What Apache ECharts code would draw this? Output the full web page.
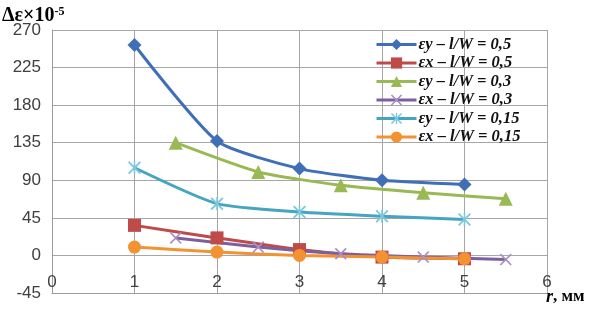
<!DOCTYPE html>
<html>
<head>
<meta charset="utf-8">
<script src="https://cdn.jsdelivr.net/npm/echarts@6/dist/echarts.min.js"></script>
<style>
  html, body { margin: 0; padding: 0; background: #fff; }
  #chart { width: 598px; height: 309px; }
</style>
</head>
<body>
<div id="chart"></div>
<script>
// r, мм
const rWhole = [1, 2, 3, 4, 5];
const rHalf = [1.5, 2.5, 3.5, 4.5, 5.5];

// Δε ×10^-5
const eyW05 = [252, 137, 104, 90, 85];
const exW05 = [36, 21, 7, -2, -4];
const eyW03 = [135, 100, 84, 75, 68];
const exW03 = [21, 10, 2, -2, -5];
const eyW015 = [105, 62, 52, 47, 43];
const exW015 = [10, 4, 0, -2, -4];

const seriesNames = [
  'εy – l/W = 0,5',
  'εx – l/W = 0,5',
  'εy – l/W = 0,3',
  'εx – l/W = 0,3',
  'εy – l/W = 0,15',
  'εx – l/W = 0,15'
];

const xTicks = [0, 1, 2, 3, 4, 5, 6];
const yTicks = [-45, 0, 45, 90, 135, 180, 225, 270];

// markers
const crossPath = 'path://M0,1L1,0L5,4L9,0L10,1L6,5L10,9L9,10L5,6L1,10L0,9L4,5Z';
const starPath = 'path://M0,1L1,0L5,4L9,0L10,1L6,5L10,9L9,10L5,6L1,10L0,9L4,5Z M4.4,0L5.6,0L5.6,10L4.4,10Z';

const pairs = (xs, ys) => xs.map((x, i) => [x, ys[i]]);

const mk = (name, data, color, symbol, size, symColor) => ({
  name: name,
  type: 'line',
  data: data,
  smooth: 0.2,
  symbol: symbol,
  symbolSize: size,
  showAllSymbol: true,
  lineStyle: { color: color, width: 3 },
  itemStyle: { color: symColor || color },
  z: 3
});

const chart = echarts.init(document.getElementById('chart'));
const option = {
  animation: false,
  backgroundColor: '#fff',
  title: {
    text: '{a|Δε×10}{b|-5}',
    left: -3,
    top: 1,
    textStyle: {
      rich: {
        a: { fontFamily: 'Liberation Serif', fontWeight: 'bold', fontSize: 20, color: '#000' },
        b: { fontFamily: 'Liberation Serif', fontWeight: 'bold', fontSize: 12, color: '#000', verticalAlign: 'top', padding: [0, 0, 8, 0] }
      }
    }
  },
  graphic: [{
    type: 'text',
    left: 546,
    top: 288,
    style: {
      text: '{i|r}{n|, мм}',
      rich: {
        i: { fontFamily: 'Liberation Serif', fontStyle: 'italic', fontWeight: 'bold', fontSize: 18, fill: '#000' },
        n: { fontFamily: 'Liberation Serif', fontWeight: 'bold', fontSize: 17, fill: '#000' }
      }
    }
  }],
  legend: {
    orient: 'vertical',
    left: 370,
    top: 31,
    itemWidth: 40,
    itemHeight: 14,
    itemGap: 1.5,
    data: seriesNames,
    lineStyle: { width: 3 },
    textStyle: {
      fontFamily: 'Liberation Serif',
      fontStyle: 'italic',
      fontWeight: 'bold',
      fontSize: 16.5,
      color: '#111',
      padding: [0, 0, 0, -3]
    }
  },
  grid: { left: 52, right: 51, top: 30, bottom: 16 },
  xAxis: {
    type: 'value',
    min: 0,
    max: 6,
    interval: 1,
    axisLine: { show: true, onZero: false, lineStyle: { color: '#9a9a9a', width: 1 } },
    axisTick: { show: false },
    splitLine: { show: true, lineStyle: { color: '#a6a6a6', width: 1 } },
    axisLabel: {
      inside: true,
      margin: 2,
      fontFamily: 'Liberation Sans',
      fontSize: 17,
      color: '#404040',
      formatter: v => xTicks.includes(v) ? String(v) : ''
    }
  },
  yAxis: {
    type: 'value',
    min: -45,
    max: 270,
    interval: 45,
    axisLine: { show: true, lineStyle: { color: '#9a9a9a', width: 1 } },
    axisTick: { show: false },
    splitLine: { show: true, lineStyle: { color: '#a6a6a6', width: 1 } },
    axisLabel: {
      margin: 11,
      fontFamily: 'Liberation Sans',
      fontSize: 17,
      color: '#404040',
      formatter: v => yTicks.includes(v) ? String(v) : ''
    }
  },
  series: [
    mk(seriesNames[0], pairs(rWhole, eyW05), '#3f6fb6', 'diamond', 14),
    mk(seriesNames[1], pairs(rWhole, exW05), '#be4b48', 'rect', 13),
    mk(seriesNames[2], pairs(rHalf, eyW03), '#98b954', 'triangle', 14),
    mk(seriesNames[3], pairs(rHalf, exW03), '#7d5fa0', crossPath, 12, '#a58fc4'),
    mk(seriesNames[4], pairs(rWhole, eyW015), '#45a5c0', starPath, 13, '#7cc8dc'),
    mk(seriesNames[5], pairs(rWhole, exW015), '#f39233', 'circle', 13)
  ]
};
chart.setOption(option);
</script>
</body>
</html>
